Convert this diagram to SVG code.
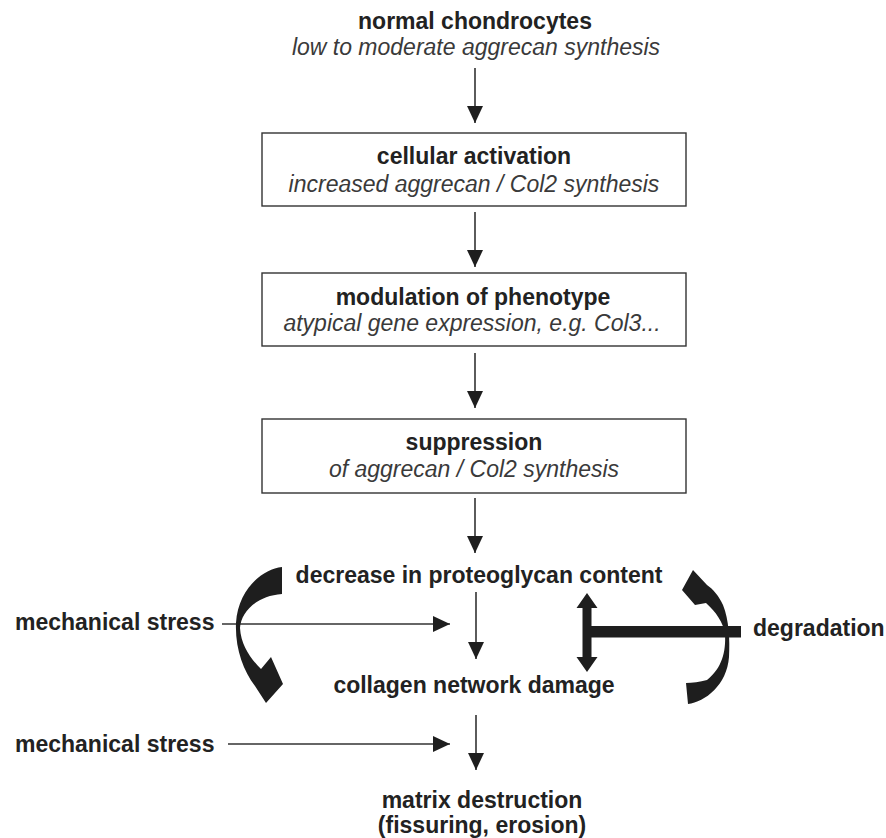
<svg xmlns="http://www.w3.org/2000/svg" width="886" height="838" viewBox="0 0 886 838">
<defs>
<style>
text { font-family: "Liberation Sans", Arial, sans-serif; font-size: 23px; fill: #222; }
.b { font-weight: bold; }
.i { font-style: italic; fill: #3a3a3a; }
.m { text-anchor: middle; }
.box { fill: #fff; stroke: #333; stroke-width: 1.4; }
.ln { stroke: #333; stroke-width: 1.6; fill: none; marker-end: url(#ah); }
.blk { fill: #1e1e1e; stroke: none; }
</style>
<marker id="ah" markerUnits="userSpaceOnUse" markerWidth="17" markerHeight="16" refX="17" refY="8" orient="auto">
<path d="M0,0 L17,8 L0,16 z" fill="#1e1e1e"/>
</marker>
</defs>
<rect width="886" height="838" fill="#fff"/>

<g id="connectors">
<line class="ln" x1="475" y1="68" x2="475" y2="123"/>
<line class="ln" x1="475" y1="212" x2="475" y2="267"/>
<line class="ln" x1="475" y1="353" x2="475" y2="408"/>
<line class="ln" x1="475" y1="498" x2="475" y2="553"/>
<line class="ln" x1="476" y1="592" x2="476" y2="659"/>
<line class="ln" x1="476" y1="715" x2="476" y2="770"/>
<line class="ln" x1="222" y1="624" x2="450" y2="624"/>
<line class="ln" x1="228" y1="744" x2="450" y2="744"/>
<path class="blk" d="M282,567 C262,569 238,590 236,623 C235,648 243,670 255,686 L266,703 L283,684 L271,657 L261,669 C250,658 241,645 240,628 C241,612 256,596 282,594 Z"/>
<path class="blk" d="M686,683 L688,704 C705,702 727,685 729,657 C730,640 729,620 723,605 C719,596 713,589 707,585 L693,570 L682,590 L695,605 L706,603 C716,612 723,622 725,634 C726,652 722,668 707,680 C700,682 692,683 686,683 Z"/>
<rect class="blk" x="590" y="626" width="151" height="11.5"/>
<path class="blk" d="M587,593 L597.5,608 L591.5,608 L591.5,657 L597.5,657 L587,672 L576.5,657 L582.5,657 L582.5,608 L576.5,608 Z"/>
</g>

<g id="n-normal">
<text class="b m" x="475" y="29">normal chondrocytes</text>
<text class="i m" x="476" y="55">low to moderate aggrecan synthesis</text>
</g>

<g id="n-activation">
<rect class="box" x="262" y="133" width="424" height="73"/>
<text class="b m" x="474" y="164">cellular activation</text>
<text class="i m" x="474" y="192">increased aggrecan / Col2 synthesis</text>
</g>

<g id="n-modulation">
<rect class="box" x="262" y="273" width="424" height="73"/>
<text class="b m" x="473" y="305">modulation of phenotype</text>
<text class="i m" x="472" y="331">atypical gene expression, e.g. Col3...</text>
</g>

<g id="n-suppression">
<rect class="box" x="262" y="419" width="424" height="74"/>
<text class="b m" x="474" y="450">suppression</text>
<text class="i m" x="474" y="477">of aggrecan / Col2 synthesis</text>
</g>

<g id="n-decrease">
<text class="b m" x="479" y="583">decrease in proteoglycan content</text>
</g>

<g id="n-stress1">
<text class="b" x="15" y="630">mechanical stress</text>
</g>

<g id="n-collagen">
<text class="b m" x="474" y="693">collagen network damage</text>
</g>

<g id="n-degradation">
<text class="b" x="753" y="636">degradation</text>
</g>

<g id="n-stress2">
<text class="b" x="15" y="752">mechanical stress</text>
</g>

<g id="n-matrix">
<text class="b m" x="482" y="808">matrix destruction</text>
<text class="b m" x="482" y="833">(fissuring, erosion)</text>
</g>
</svg>
